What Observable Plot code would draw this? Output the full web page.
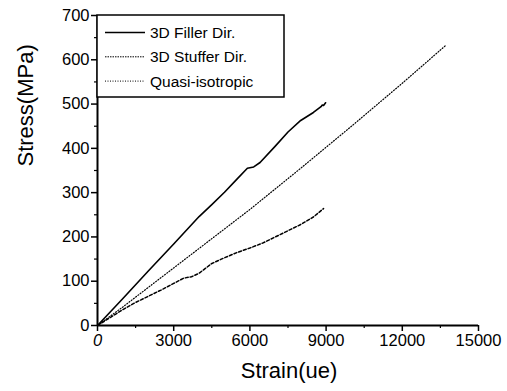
<!DOCTYPE html>
<html>
<head>
<meta charset="utf-8">
<script src="https://cdn.jsdelivr.net/npm/d3@7"></script>
<script src="https://cdn.jsdelivr.net/npm/@observablehq/plot@0.6"></script>
<style>
  html, body { margin: 0; padding: 0; background: #fff; }
  #chart svg { display: block; }
  #chart g[aria-label="x-axis tick label"] text,
  #chart g[aria-label="y-axis tick label"] text { font-size: 16.5px; }
  #chart g[aria-label="x-axis tick label"] text:first-child { font-style: italic; }
</style>
</head>
<body>
<div id="chart"></div>
<script>
// Stress-strain curves for a 3D woven composite vs. a quasi-isotropic laminate
const fillerStrain  = [0, 1000, 2000, 3000, 4000, 4500, 5000, 5500, 5900, 6150, 6400, 7000, 7500, 8000, 8500, 8800, 8850, 8900, 8980];
const fillerStress  = [0, 61, 123, 184, 246, 273, 301, 331, 355, 358, 368, 405, 437, 463, 481, 494, 498, 497, 503];

const stufferStrain = [0, 500, 1000, 1500, 2000, 2500, 3000, 3400, 3700, 4000, 4500, 5000, 5500, 6000, 6500, 7000, 7500, 8000, 8500, 8900];
const stufferStress = [0, 18, 36, 52, 66, 80, 95, 107, 110, 118, 140, 153, 165, 175, 186, 200, 214, 228, 245, 264];

const quasiStrain   = [0, 1000, 3000, 6000, 8000, 10000, 12000, 13700];
const quasiStress   = [0, 42, 130, 262, 355, 450, 547, 632];

const seriesNames = ["3D Filler Dir.", "3D Stuffer Dir.", "Quasi-isotropic"];
const xTicks = [0, 3000, 6000, 9000, 12000, 15000];
const xMinor = [1500, 4500, 7500, 10500, 13500];
const yTicks = [0, 100, 200, 300, 400, 500, 600, 700];
const yMinor = [50, 150, 250, 350, 450, 550, 650];

const toRows = (xs, ys) => xs.map((s, i) => ({strain: s, stress: ys[i]}));
const filler  = toRows(fillerStrain, fillerStress);
const stuffer = toRows(stufferStrain, stufferStress);
const quasi   = toRows(quasiStrain, quasiStress);

const font = "'Liberation Sans', Arial, Helvetica, sans-serif";

const chart = Plot.plot({
  width: 507,
  height: 391,
  marginLeft: 97,
  marginRight: 29,
  marginTop: 15,
  marginBottom: 66,
  style: {fontFamily: font, fontSize: "15px", color: "#000", background: "#fff", overflow: "visible"},
  x: {domain: [0, 15000]},
  y: {domain: [0, 700]},
  marks: [
    Plot.axisX({ticks: xTicks, tickSize: 6, tickPadding: 3, tickFormat: d => String(d), label: null, strokeWidth: 1.5}),
    Plot.axisX({ticks: xMinor, tickSize: 3, text: null, label: null, strokeWidth: 1.2}),
    Plot.axisY({ticks: yTicks, tickSize: 6, tickPadding: 2, tickFormat: d => String(d), label: null, strokeWidth: 1.5}),
    Plot.axisY({ticks: yMinor, tickSize: 3, text: null, label: null, strokeWidth: 1.2}),
    Plot.ruleY([0], {strokeWidth: 2}),
    Plot.ruleX([0], {strokeWidth: 2}),
    Plot.line(quasi,   {x: "strain", y: "stress", stroke: "#000", strokeWidth: 1.2, strokeDasharray: "1,1.8"}),
    Plot.line(stuffer, {x: "strain", y: "stress", stroke: "#000", strokeWidth: 1.5, strokeDasharray: "3,2"}),
    Plot.line(filler,  {x: "strain", y: "stress", stroke: "#000", strokeWidth: 1.6}),
    Plot.text(["Stress(MPa)"], {frameAnchor: "left", dx: -72, dy: -4, rotate: -90, fontSize: 22, fill: "#000"}),
    Plot.text(["Strain(ue)"], {frameAnchor: "bottom", dx: 1, dy: 52, fontSize: 22, fill: "#000"})
  ]
});

document.getElementById("chart").append(chart);

// Legend box in the upper-left corner of the plotting area
const svg = d3.select(chart);
const legend = svg.append("g")
  .attr("font-family", font)
  .attr("font-size", 15.5)
  .attr("text-anchor", "start");
legend.append("rect")
  .attr("x", 97).attr("y", 15).attr("width", 187).attr("height", 82)
  .attr("fill", "#fff").attr("stroke", "#000").attr("stroke-width", 1.5);
seriesNames.forEach((name, i) => {
  const y = 32.5 + i * 24.3;
  legend.append("line")
    .attr("x1", 105).attr("x2", 145).attr("y1", y).attr("y2", y)
    .attr("stroke", "#000")
    .attr("stroke-width", i === 0 ? 1.5 : 1)
    .attr("stroke-dasharray", i === 0 ? null : (i === 1 ? "1.5,1" : "1,1.5"));
  legend.append("text")
    .attr("x", 150).attr("y", y).attr("dy", "0.35em")
    .attr("fill", "#000")
    .text(name);
});
</script>
</body>
</html>
